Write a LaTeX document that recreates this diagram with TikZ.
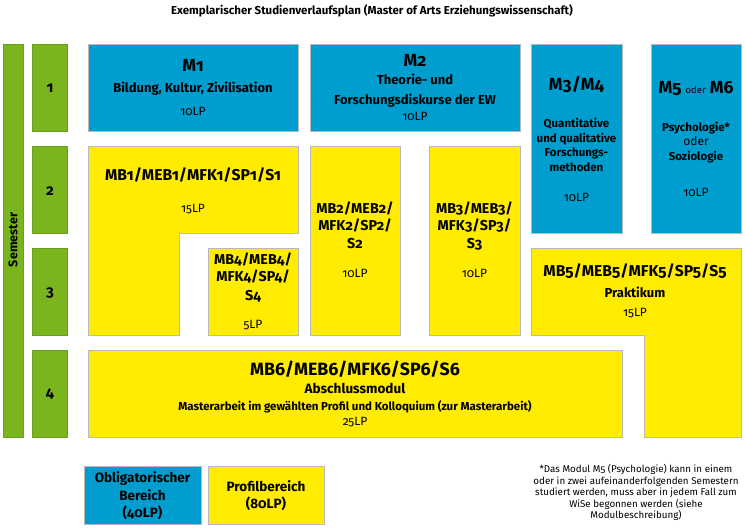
\documentclass[tikz,border=0pt]{standalone}
\usepackage{fontspec}
\setmainfont{Fira Sans}[Numbers=OldStyle]
\definecolor{ublue}{RGB}{0,158,206}
\definecolor{uyellow}{RGB}{255,236,0}
\definecolor{ugreen}{RGB}{122,181,29}
\definecolor{ugreenline}{RGB}{104,160,30}
\definecolor{ugray}{RGB}{185,185,185}
\tikzset{
  bluebox/.style={fill=ublue,draw=ugray,line width=0.8pt},
  yellowbox/.style={fill=uyellow,draw=ugray,line width=0.8pt},
  greenbox/.style={fill=ugreen,draw=ugreenline,line width=0.8pt},
  txt/.style={anchor=base,inner sep=0pt,text=black},
  fhead/.style={font=\fontsize{17.5}{19}\selectfont\bfseries},
  fsub/.style={font=\fontsize{13}{15}\selectfont\bfseries},
  fsmall/.style={font=\fontsize{11.5}{13}\selectfont\bfseries},
  flp/.style={font=\fontsize{12}{14}\selectfont},
  fmb/.style={font=\fontsize{15.7}{17}\selectfont\bfseries},
  fmbs/.style={font=\fontsize{14.3}{16}\selectfont\bfseries},
  fmbbig/.style={font=\fontsize{17.8}{19}\selectfont\bfseries},
  fmid/.style={font=\fontsize{13.5}{15}\selectfont\bfseries},
  fline/.style={font=\fontsize{11.5}{13}\selectfont\bfseries},
  fnote/.style={font=\fontsize{9.8}{12}\selectfont},
  ftitle/.style={font=\fontsize{11.5}{13}\selectfont\bfseries},
  fnum/.style={font=\fontsize{15}{17}\selectfont\bfseries},
}
\begin{document}
\begin{tikzpicture}[x=1pt,y=-1pt]
\useasboundingbox (0,0) rectangle (745,531);
% title
\node[txt,ftitle] (title) at (372,14.5) {Exemplarischer Studienverlaufsplan (Master of Arts Erziehungswissenschaft)};
% semester column
\path[greenbox] (3,44) rectangle (23,437);
\node[font=\fontsize{12.5}{14}\selectfont\bfseries,rotate=90,inner sep=0pt] (sem) at (13,240) {Semester};
\path[greenbox] (32,44) rectangle (67,131);
\path[greenbox] (32,146) rectangle (67,233);
\path[greenbox] (32,248) rectangle (67,335);
\path[greenbox] (32,350) rectangle (67,437);
\node[txt,fnum] (n1) at (50,92.7) {1};
\node[txt,fnum] (n2) at (50,195) {2};
\node[txt,fnum] (n3) at (50,296.5) {3};
\node[txt,fnum] (n4) at (50,397.5) {4};
% blue modules
\path[bluebox] (88,44) rectangle (298,131);
\path[bluebox] (310,44) rectangle (520,131);
\path[bluebox] (531,44) rectangle (622,233);
\path[bluebox] (651,44) rectangle (741,233);
\node[txt,fhead] (m1) at (193,71) {M1};
\node[txt,fsub] (m1b) at (193,92.7) {Bildung, Kultur, Zivilisation};
\node[txt,flp] (m1c) at (193,115) {10LP};
\node[txt,fhead] (m2) at (415,66) {M2};
\node[txt,fsub] (m2b) at (415,84) {Theorie- und};
\node[txt,fsub] (m2c) at (415,104.5) {Forschungsdiskurse der EW};
\node[txt,flp] (m2d) at (415,120.7) {10LP};
\node[txt,fhead] (m3) at (576.5,90.7) {M3/M4};
\node[txt,fsmall] (m3b) at (576.5,127.7) {Quantitative};
\node[txt,fsmall] (m3c) at (576.5,142.2) {und qualitative};
\node[txt,fsmall] (m3d) at (576.5,156.7) {Forschungs-};
\node[txt,fsmall] (m3e) at (576.5,171) {methoden};
\node[txt,flp] (m3f) at (576.5,201.7) {10LP};
\node[txt,fhead] (m5) at (696,93) {M5 {\fontsize{9.5}{10}\selectfont\mdseries oder} M6};
\node[txt,fsmall] (m5b) at (696,131) {Psychologie*};
\node[txt,flp] (m5c) at (696,145) {oder};
\node[txt,fsmall] (m5d) at (696,160.5) {Soziologie};
\node[txt,flp] (m5e) at (696,196) {10LP};
% yellow modules
\path[yellowbox] (88,146) -- (298,146) -- (298,233) -- (179,233) -- (179,335) -- (88,335) -- cycle;
\path[yellowbox] (208,248) rectangle (298,335);
\path[yellowbox] (310,146) rectangle (400,335);
\path[yellowbox] (429,146) rectangle (520,335);
\path[yellowbox] (531,248) -- (741,248) -- (741,437) -- (644,437) -- (644,335) -- (531,335) -- cycle;
\path[yellowbox] (88,350) rectangle (622,437);
\node[txt,fmb] (mb1) at (193,180) {MB1/MEB1/MFK1/SP1/S1};
\node[txt,flp] (mb1b) at (193,212.7) {15LP};
\node[txt,fmbs] (mb4a) at (253,264) {MB4/MEB4/};
\node[txt,fmbs] (mb4b) at (253,281.7) {MFK4/SP4/};
\node[txt,fmbs] (mb4c) at (253,300) {S4};
\node[txt,flp] (mb4d) at (253,328.3) {5LP};
\node[txt,fmbs] (mb2a) at (355,213) {MB2/MEB2/};
\node[txt,fmbs] (mb2b) at (355,230.5) {MFK2/SP2/};
\node[txt,fmbs] (mb2c) at (355,248) {S2};
\node[txt,flp] (mb2d) at (355,277) {10LP};
\node[txt,fmbs] (mb3a) at (474.5,213) {MB3/MEB3/};
\node[txt,fmbs] (mb3b) at (474.5,230.5) {MFK3/SP3/};
\node[txt,fmbs] (mb3c) at (474.5,248) {S3};
\node[txt,flp] (mb3d) at (474.5,277) {10LP};
\node[txt,fmb] (mb5) at (635,276.7) {MB5/MEB5/MFK5/SP5/S5};
\node[txt,fsub] (mb5b) at (635,297.7) {Praktikum};
\node[txt,flp] (mb5c) at (635,316.7) {15LP};
\node[txt,fmbbig] (mb6) at (355,375) {MB6/MEB6/MFK6/SP6/S6};
\node[txt,fmid] (mb6b) at (355,393.3) {Abschlussmodul};
\node[txt,fline] (mb6c) at (355,410) {Masterarbeit im gewählten Profil und Kolloquium (zur Masterarbeit)};
\node[txt,flp] (mb6d) at (355,425) {25LP};
% legend
\path[bluebox] (84,466) rectangle (201,524);
\path[yellowbox] (208,466) rectangle (324,524);
\node[txt,fmid] (lga) at (142.5,482.3) {Obligatorischer};
\node[txt,fmid] (lgb) at (142.5,500) {Bereich};
\node[txt,fmid] (lgc) at (142.5,517.5) {(40LP)};
\node[txt,fmid] (lya) at (266,491.7) {Profilbereich};
\node[txt,fmid] (lyb) at (266,508.3) {(80LP)};
% footnote
\node[txt,fnote] (fa) at (636,472.3) {*Das Modul M5 (Psychologie) kann in einem};
\node[txt,fnote] (fb) at (636,484) {oder in zwei aufeinanderfolgenden Semestern};
\node[txt,fnote] (fc) at (636,495.5) {studiert werden, muss aber in jedem Fall zum};
\node[txt,fnote] (fd) at (636,507) {WiSe begonnen werden (siehe};
\node[txt,fnote] (fe) at (636,518.8) {Modulbeschreibung)};
\end{tikzpicture}
\end{document}
